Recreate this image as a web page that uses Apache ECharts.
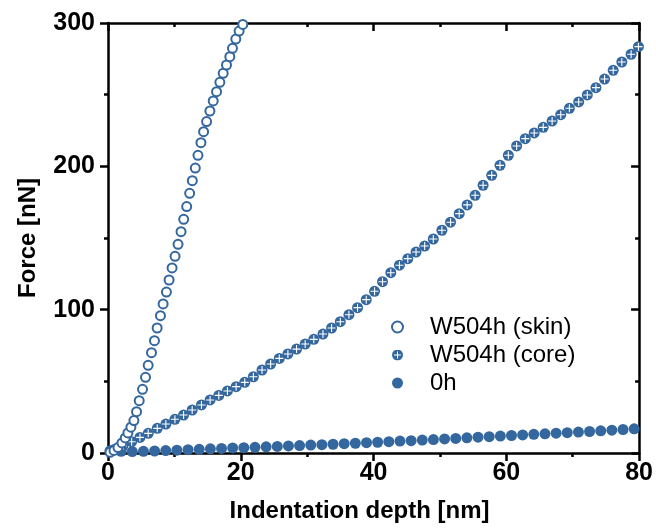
<!DOCTYPE html>
<html>
<head>
<meta charset="utf-8">
<script src="https://cdn.jsdelivr.net/npm/echarts@6/dist/echarts.min.js"></script>
<style>
  html, body { margin: 0; padding: 0; background: #fff; }
  #chart { width: 656px; height: 528px; }
</style>
</head>
<body>
<div id="chart"></div>
<script>
// Force vs. indentation depth curves (AFM nanoindentation)
const seriesNames = ['W504h (skin)', 'W504h (core)', '0h'];

const skinX = [0.3, 0.9, 1.5, 2.1, 2.6, 3.0, 3.45, 3.9, 4.3, 4.7, 5.2, 5.65, 6.05, 6.55, 7.0, 7.4, 7.9, 8.3, 8.8, 9.2,
  9.65, 10.1, 10.55, 11.0, 11.4, 11.85, 12.3, 12.7, 13.15, 13.55, 14.0, 14.4, 14.85, 15.35, 15.85, 16.35, 16.85, 17.35,
  17.85, 18.35, 18.75, 19.25, 19.75, 20.3];
const skinY = [0.5, 1.8, 3.8, 7.0, 10.5, 14.0, 18.0, 22.6, 28.8, 36.5, 44.4, 52.8, 61.2, 70.0, 78.4, 87.2, 95.8, 104.0,
  112.3, 120.7, 129.1, 137.2, 145.6, 154.4, 163.0, 171.9, 181.2, 190.0, 198.8, 207.7, 216.5, 224.2, 231.2, 238.6, 245.6,
  252.1, 258.6, 264.9, 270.7, 276.5, 282.3, 288.8, 294.4, 299.0];

const coreX = [0.94, 2.25, 3.56, 4.81, 6.06, 7.42, 8.72, 10.08, 11.38, 12.68, 14.08, 15.38, 16.69, 17.99, 19.3, 20.6,
  21.9, 23.2, 24.5, 25.8, 27.1, 28.4, 29.7, 31.0, 32.38, 33.68, 34.99, 36.29, 37.59, 38.9, 40.15, 41.35, 42.6, 43.9,
  45.16, 46.4, 47.7, 49.0, 50.3, 51.6, 52.9, 54.1, 55.3, 56.5, 57.8, 59.05, 60.3, 61.55, 62.85, 64.2, 65.56, 66.9, 68.2,
  69.5, 70.9, 72.2, 73.5, 74.8, 76.1, 77.4, 78.8, 79.9];
const coreY = [2.5, 5.0, 7.9, 10.9, 13.7, 17.2, 20.2, 23.5, 26.5, 30.0, 33.5, 37.0, 40.2, 43.3, 46.3, 49.3, 53.2, 57.9,
  62.1, 66.0, 69.1, 72.5, 76.0, 79.3, 83.0, 87.2, 91.6, 96.5, 101.4, 107.0, 112.8, 119.5, 125.8, 131.0, 135.6, 140.2,
  144.4, 149.3, 155.4, 161.0, 167.0, 173.1, 179.8, 186.8, 193.7, 200.7, 207.7, 214.2, 219.3, 223.3, 227.2, 231.6, 236.0,
  240.5, 244.9, 249.8, 254.9, 260.9, 267.0, 272.8, 278.2, 283.5];

const h0X = [0.3, 1.98, 3.66, 5.34, 7.02, 8.7, 10.38, 12.06, 13.74, 15.42, 17.1, 18.78, 20.46, 22.14, 23.82, 25.5, 27.18,
  28.86, 30.54, 32.22, 33.9, 35.58, 37.26, 38.94, 40.62, 42.3, 43.98, 45.66, 47.34, 49.02, 50.7, 52.38, 54.06, 55.74,
  57.42, 59.1, 60.78, 62.46, 64.14, 65.82, 67.5, 69.18, 70.86, 72.54, 74.22, 75.9, 77.58, 79.26];
const h0Y = [1.5, 1.2, 1.0, 1.2, 1.4, 1.7, 2.0, 2.3, 2.6, 2.9, 3.2, 3.5, 3.7, 4.0, 4.3, 4.6, 4.9, 5.2, 5.5, 5.8, 6.1,
  6.5, 6.8, 7.2, 7.5, 7.9, 8.3, 8.6, 9.0, 9.4, 9.8, 10.2, 10.6, 11.0, 11.4, 11.8, 12.2, 12.6, 13.0, 13.4, 13.8, 14.2,
  14.6, 15.0, 15.5, 15.9, 16.4, 16.9];

const xTicks = { min: 0, max: 80, step: 20 };
const yTicks = { min: 0, max: 300, step: 100 };

const BLUE = '#34679e';
const FONT = "'Liberation Sans', Arial, sans-serif";

// legend icon for the "circled plus" marker: blue disc with a white cross
const coreSvg = "<svg xmlns='http://www.w3.org/2000/svg' width='11' height='11' viewBox='0 0 40 40'>" +
  "<circle cx='20' cy='20' r='20' fill='" + BLUE + "'/>" +
  "<path d='M20 7V33M7 20H33' stroke='white' stroke-width='3.8'/></svg>";
const coreIcon = 'image://data:image/svg+xml;charset=utf-8,' + encodeURIComponent(coreSvg);
// white cross drawn on top of each core disc
const crossPath = 'path://M-0.55,-4H0.55V4H-0.55Z M-4,-0.55H4V0.55H-4Z';

const zip = (xs, ys) => xs.map((x, i) => [x, ys[i]]);

const lineStyle = { color: '#000', width: 2.5 };
const tickLabel = { show: true, color: '#000', fontFamily: FONT, fontWeight: 'bold', fontSize: 25 };
const titleText = { color: '#000', fontFamily: FONT, fontWeight: 'bold', fontSize: 24 };

function frameAxis(base, pos, showLabels) {
  return Object.assign({
    type: 'value',
    position: pos,
    axisLine: { show: true, onZero: false, lineStyle },
    axisTick: { show: true, inside: !showLabels, length: 8, lineStyle },
    minorTick: { show: true, splitNumber: 2, length: 4, lineStyle },
    splitLine: { show: false },
    minorSplitLine: { show: false },
    axisLabel: { show: false }
  }, base);
}

const chart = echarts.init(document.getElementById('chart'), null, { renderer: 'canvas' });

chart.setOption({
  animation: false,
  backgroundColor: '#fff',
  grid: { left: 108, right: 16, top: 23, bottom: 75, containLabel: false },
  xAxis: [
    frameAxis({
      min: xTicks.min, max: xTicks.max, interval: xTicks.step,
      name: 'Indentation depth [nm]', nameLocation: 'middle', nameGap: 46,
      nameTextStyle: Object.assign({ padding: [0, 28, 0, 0] }, titleText),
      axisLabel: Object.assign({ margin: 8 }, tickLabel)
    }, 'bottom', true),
    frameAxis({ min: xTicks.min, max: xTicks.max, interval: xTicks.step }, 'top', false)
  ],
  yAxis: [
    frameAxis({
      min: yTicks.min, max: yTicks.max, interval: yTicks.step,
      name: 'Force [nN]', nameLocation: 'middle', nameGap: 68,
      nameTextStyle: titleText,
      axisLabel: Object.assign({ margin: 13 }, tickLabel)
    }, 'left', true),
    frameAxis({ min: yTicks.min, max: yTicks.max, interval: yTicks.step }, 'right', false)
  ],
  legend: {
    orient: 'vertical',
    left: 386,
    top: 310,
    itemWidth: 11,
    itemHeight: 11,
    itemGap: 4,
    selectedMode: false,
    textStyle: { color: '#000', fontFamily: FONT, fontSize: 24, padding: [0, 0, 0, 22] },
    data: [
      { name: seriesNames[0], icon: 'emptyCircle' },
      { name: seriesNames[1], icon: coreIcon },
      { name: seriesNames[2], icon: 'circle' }
    ]
  },
  series: [
    {
      name: seriesNames[2], type: 'scatter', data: zip(h0X, h0Y),
      symbol: 'circle', symbolSize: 11, itemStyle: { color: BLUE, opacity: 1 }
    },
    {
      name: seriesNames[1], type: 'scatter', data: zip(coreX, coreY),
      symbol: 'circle', symbolSize: 11, itemStyle: { color: BLUE, opacity: 1 }
    },
    {
      name: 'core-cross', type: 'scatter', data: zip(coreX, coreY), silent: true,
      symbol: crossPath, symbolSize: 8, itemStyle: { color: '#fff', opacity: 1 }
    },
    {
      name: seriesNames[0], type: 'scatter', data: zip(skinX, skinY),
      symbol: 'emptyCircle', symbolSize: 9, itemStyle: { color: BLUE, opacity: 1 }
    }
  ]
});
</script>
</body>
</html>
